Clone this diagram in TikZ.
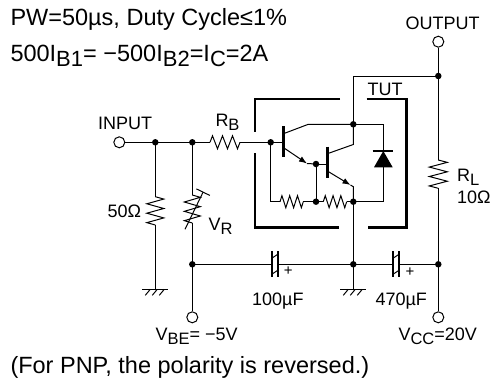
\documentclass[tikz,border=0pt]{standalone}
\usepackage{fontspec}
\setmainfont{Liberation Sans}
\usetikzlibrary{arrows.meta}
\newcommand\lblf{\fontsize{18}{18}\selectfont}
\newcommand\ttlf{\fontsize{23.5}{23.5}\selectfont}
\newcommand\sbL[1]{\raisebox{-4pt}{\fontsize{16.5}{16.5}\selectfont #1}}
\newcommand\sbT[1]{\raisebox{-5pt}{\fontsize{22}{22}\selectfont #1}}
\newcommand\zzh[4]{%
  \pgfmathsetmacro\zw{(#2-#1)/12}%
  \draw (#1,#3) -- ++(\zw,-#4) -- ++(2*\zw,2*#4) -- ++(2*\zw,-2*#4) -- ++(2*\zw,2*#4) -- ++(2*\zw,-2*#4) -- ++(2*\zw,2*#4) -- ++(\zw,-#4);}
\newcommand\zzv[4]{%
  \pgfmathsetmacro\zw{(#3-#2)/12}%
  \draw (#1,#2) -- ++(#4,\zw) -- ++(-2*#4,2*\zw) -- ++(2*#4,2*\zw) -- ++(-2*#4,2*\zw) -- ++(2*#4,2*\zw) -- ++(-2*#4,2*\zw) -- ++(#4,\zw);}
\newcommand\gndsym[2]{%
  \draw (#1-13,#2) -- (#1+13,#2);
  \foreach \hx in {-5,2,9} \draw (#1+\hx,#2) -- ++(-5,6);}
\newcommand\ecap[2]{%
  \draw[line width=1.8pt] (#1-3,#2-13) -- (#1-3,#2+13);
  \draw[line width=1.8pt] (#1+3,#2-13) -- (#1+3,#2+13);
  \draw (#1-3,#2-6) -- (#1+3,#2-10);
  \draw (#1-3,#2+10) -- (#1+3,#2+6);}
\begin{document}
\begin{tikzpicture}[x=1pt,y=-1pt,line width=1pt,line join=miter,
  dot/.style={circle,fill,inner sep=0pt,minimum size=6.5pt},
  term/.style={circle,draw,fill=white,inner sep=0pt,minimum size=11pt,line width=1pt},
  boxl/.style={line width=2.8pt},
  tbar/.style={line width=2.6pt},
  lbl/.style={inner sep=0pt,font=\lblf},
  ttl/.style={inner sep=0pt,font=\ttlf},
  earrow/.style={-{Latex[length=8pt,width=6pt]}}]
\useasboundingbox[fill=white] (0,0) rectangle (491,389);
% coordinates
\coordinate (J1) at (155.3,142.3);
\coordinate (J2) at (192.3,142.3);
\coordinate (J3) at (270.7,142.3);
\coordinate (J4) at (192.3,264.3);
\coordinate (J5) at (353.3,264.3);
\coordinate (J6) at (438.3,264.3);
\coordinate (J7) at (353.3,201.7);
\coordinate (J8) at (438.3,76);
\coordinate (J9) at (353.3,124.3);
\coordinate (J10) at (316,201.7);
\coordinate (J11) at (316,164);
\coordinate (G1) at (155.3,289.3);
\coordinate (G2) at (353.3,289.3);
% terminals
\node[term] (in) at (119.3,142.3) {};
\node[term] (out) at (438.3,41.7) {};
\node[term] (vbe) at (192.3,317.3) {};
\node[term] (vcc) at (438.3,317.3) {};
% input side
\draw (in) -- (J1) -- (J2) -- (210,142.3);
\zzh{210}{240}{142.3}{6.5}
\draw (240,142.3) -- (J3) -- (283.3,142.3);
\draw (J1) -- (155.3,196.7);
\zzv{155.3}{196.7}{225}{8.5}
\draw (155.3,225) -- (G1);
\gndsym{155.3}{289.3}
\draw (J2) -- (192.3,195);
\zzv{192.3}{195}{223}{8}
\draw (192.3,223) -- (J4) -- (vbe);
\draw[-{Bar[width=15pt]}] (185,229.3) -- (203.3,191.7);
% bottom rail
\draw (J4) -- (271.7,264.3);
\ecap{274.7}{264.3}
\draw (277.7,264.3) -- (J5) -- (393,264.3);
\ecap{396}{264.3}
\draw (399,264.3) -- (J6);
\draw (J5) -- (G2);
\gndsym{353.3}{289.3}
\draw (J5) -- (J7);
% output side
\draw (out) -- (J8) -- (438.3,160);
\zzv{438.3}{160}{188.3}{9}
\draw (438.3,188.3) -- (J6) -- (vcc);
\draw (J8) -- (353.3,76) -- (J9);
% TUT box
\draw[boxl] (340,99) -- (255,99) -- (255,131.7);
\draw[boxl] (255,153) -- (255,227.7) -- (339,227.7);
\draw[boxl] (366.7,99) -- (406.7,99) -- (406.7,227.7) -- (368.3,227.7);
% Q1
\draw[tbar] (283.3,126) -- (283.3,156.7);
\draw (284.5,133.3) -- (308.3,124.3) -- (J9);
\draw[earrow] (284.5,148.3) -- (307,163.5);
\draw (307,163.5) -- (J11);
% Q2
\draw[tbar] (327.3,146.7) -- (327.3,178.3);
\draw (J11) -- (327.3,164);
\draw (328.5,153.3) -- (353.3,144.5) -- (J9);
\draw[earrow] (328.5,171.7) -- (350.5,185);
\draw (350.5,185) -- (353.3,186.7) -- (J7);
% diode
\draw (J9) -- (383.3,124.3) -- (383.3,151);
\draw[line width=2pt] (372.7,151) -- (393.3,151);
\fill (383.3,151) -- (374,167.3) -- (392.7,167.3) -- cycle;
\draw (383.3,167.3) -- (383.3,201.7) -- (J7);
% internal resistors
\draw (J3) -- (270.7,201.7) -- (280,201.7);
\zzh{280}{303.3}{201.7}{6}
\draw (303.3,201.7) -- (J10) -- (323.3,201.7);
\zzh{323.3}{346.7}{201.7}{6}
\draw (346.7,201.7) -- (J7);
\draw (J11) -- (J10);
% dots
\foreach \p in {J1,J2,J3,J4,J5,J6,J7,J8,J9,J10,J11} \node[dot] at (\p) {};
% labels
\node[ttl,anchor=base west] (t1) at (10,25.7) {PW=50µs, Duty Cycle≤1\%};
\node[ttl,anchor=base west] (t2) at (10,61.7) {500I\sbT{B1}= −500I\sbT{B2}=I\sbT{C}=2A};
\node[ttl,anchor=base west] (t3) at (10,373.3) {(For PNP, the polarity is reversed.)};
\node[lbl,anchor=base] (lin) at (125,129.3) {INPUT};
\node[lbl,anchor=base] (lout) at (442.5,29.3) {OUTPUT};
\node[lbl,anchor=base] (ltut) at (385,95) {TUT};
\node[lbl,anchor=base west] (lrb) at (215,126) {R\sbL{B}};
\node[lbl,anchor=base east] (l50) at (141.7,217.3) {50Ω};
\node[lbl,anchor=base west] (lvr) at (208,230) {V\sbL{R}};
\node[lbl,anchor=base west] (lrl) at (456.7,181.7) {R\sbL{L}};
\node[lbl,anchor=base west] (l10) at (456.7,203.3) {10Ω};
\node[lbl,anchor=base west] (lc1) at (251.7,305) {100µF};
\node[lbl,anchor=base west] (lc2) at (375,305) {470µF};
\node[lbl,anchor=base west] (lvbe) at (155,340) {V\sbL{BE}= −5V};
\node[lbl,anchor=base west] (lvcc) at (398,340) {V\sbL{CC}=20V};
\node[inner sep=0pt,font=\fontsize{15}{15}\selectfont] (p1) at (288.3,271) {+};
\node[inner sep=0pt,font=\fontsize{15}{15}\selectfont] (p2) at (410,271.7) {+};
\end{tikzpicture}
\end{document}
